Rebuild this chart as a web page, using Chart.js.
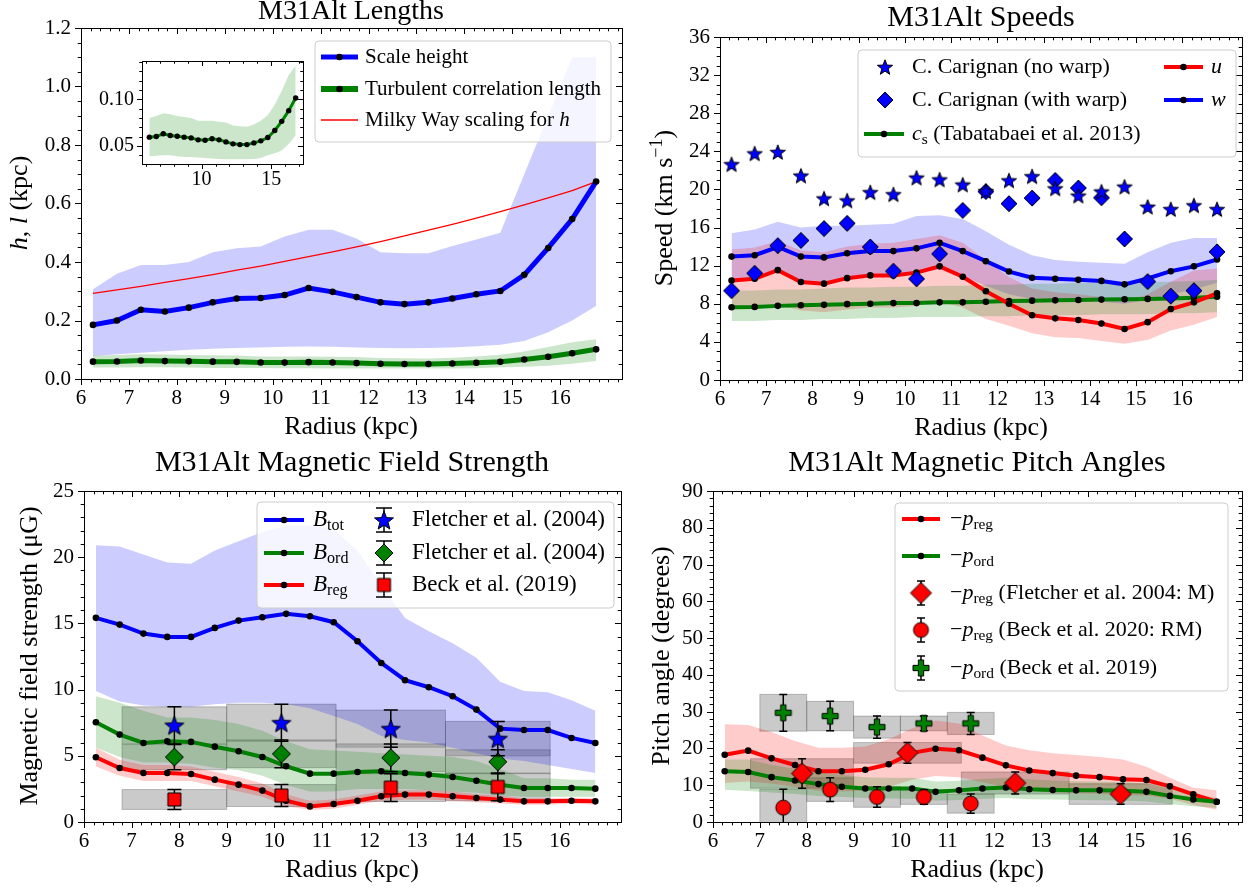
<!DOCTYPE html>
<html>
<head>
<meta charset="utf-8">
<script src="https://cdn.jsdelivr.net/npm/chart.js@4.4.1/dist/chart.umd.min.js"></script>
<style>
  html, body { margin: 0; padding: 0; background: #fff; }
  #wrap { position: relative; width: 1254px; height: 888px; overflow: hidden; }
  #wrap canvas { position: absolute; left: 0; top: 0; }
</style>
</head>
<body>
<div id="wrap">
  <canvas id="c1" width="1254" height="888"></canvas>
  <canvas id="c2" width="1254" height="888"></canvas>
  <canvas id="c3" width="1254" height="888"></canvas>
  <canvas id="c4" width="1254" height="888"></canvas>
  <canvas id="c1in" width="1254" height="888"></canvas>
</div>
<script>
/* ---- data: radii of the model rings (kpc) ---- */
const radius = [6.25, 6.75, 7.25, 7.75, 8.25, 8.75, 9.25, 9.75, 10.25, 10.75, 11.25,
  11.75, 12.25, 12.75, 13.25, 13.75, 14.25, 14.75, 15.25, 15.75, 16.25, 16.75];

/* lengths (kpc) */
const scaleHeight   = [0.185, 0.200, 0.237, 0.231, 0.244, 0.262, 0.275, 0.277, 0.287, 0.311, 0.298, 0.280, 0.262, 0.256, 0.262, 0.275, 0.290, 0.301, 0.356, 0.448, 0.547, 0.675];
const scaleHeightHi = [0.307, 0.360, 0.390, 0.390, 0.400, 0.433, 0.447, 0.453, 0.487, 0.510, 0.510, 0.480, 0.433, 0.430, 0.430, 0.455, 0.477, 0.500, 0.700, 0.900, 1.100, 1.100];
const scaleHeightLo = [0.079, 0.085, 0.090, 0.095, 0.100, 0.103, 0.106, 0.108, 0.110, 0.111, 0.110, 0.108, 0.106, 0.105, 0.106, 0.108, 0.112, 0.117, 0.130, 0.160, 0.200, 0.250];
const corrLength    = [0.0594, 0.0600, 0.0630, 0.0612, 0.0604, 0.0594, 0.0586, 0.0565, 0.0561, 0.0576, 0.0565, 0.0543, 0.0522, 0.0514, 0.0514, 0.0532, 0.0554, 0.0590, 0.0665, 0.0763, 0.0878, 0.1014];
const corrLengthHi  = [0.080, 0.082, 0.085, 0.084, 0.082, 0.081, 0.080, 0.077, 0.077, 0.077, 0.076, 0.075, 0.072, 0.071, 0.0705, 0.073, 0.077, 0.083, 0.094, 0.109, 0.126, 0.136];
const corrLengthLo  = [0.039, 0.0395, 0.040, 0.040, 0.039, 0.038, 0.038, 0.0375, 0.037, 0.0365, 0.036, 0.0356, 0.0356, 0.0356, 0.0356, 0.036, 0.037, 0.040, 0.042, 0.045, 0.052, 0.0615];
const mwScaling     = [0.293, 0.305, 0.317, 0.330, 0.343, 0.357, 0.372, 0.386, 0.402, 0.418, 0.435, 0.452, 0.470, 0.489, 0.509, 0.529, 0.550, 0.572, 0.595, 0.619, 0.644, 0.675];

/* speeds (km/s) */
const carignanNoWarp = [22.65, 23.78, 23.93, 21.45, 19.05, 18.84, 19.71, 19.49, 21.24, 21.05, 20.51, 19.82, 20.95, 21.38, 20.11, 19.35, 19.78, 20.29, 18.18, 17.93, 18.33, 17.93];
const carignanWarp   = [9.38, 11.2, 14.1, 14.65, 15.9, 16.44, 13.96, 11.42, 10.62, 13.24, 17.8, 19.78, 18.51, 19.09, 20.95, 20.15, 19.13, 14.8, 10.33, 8.8, 9.38, 13.45];
const speedU   = [10.44, 10.62, 11.53, 10.29, 10.11, 10.69, 10.98, 10.98, 11.27, 11.93, 10.84, 9.31, 8.0, 6.8, 6.47, 6.29, 5.93, 5.35, 6.07, 7.45, 8.15, 9.09];
const speedUHi = [13.7, 13.9, 14.6, 13.6, 13.4, 14.0, 14.3, 14.4, 14.8, 15.2, 14.4, 12.6, 10.8, 9.6, 9.2, 9.0, 8.7, 8.2, 9.0, 10.3, 11.5, 11.7];
const speedULo = [7.4, 7.5, 7.9, 7.3, 7.1, 7.4, 7.6, 7.6, 7.8, 8.2, 7.6, 6.4, 5.7, 4.9, 4.5, 4.4, 4.1, 3.8, 4.2, 5.2, 5.8, 6.6];
const speedW   = [12.95, 13.1, 13.96, 12.95, 12.87, 13.31, 13.53, 13.53, 13.82, 14.4, 13.53, 12.47, 11.38, 10.73, 10.62, 10.51, 10.4, 10.04, 10.65, 11.42, 11.93, 12.65];
const speedWHi = [15.4, 15.8, 16.6, 16.0, 16.2, 16.2, 16.3, 16.4, 17.2, 17.3, 16.9, 15.6, 14.2, 13.1, 12.6, 12.4, 12.3, 12.2, 13.4, 14.4, 14.9, 14.9];
const speedWLo = [10.5, 10.6, 11.3, 10.4, 10.3, 10.6, 10.9, 10.9, 11.2, 11.6, 10.9, 9.9, 9.0, 8.5, 8.4, 8.3, 8.2, 8.0, 8.4, 9.0, 9.5, 10.2];
const soundSpeed   = [7.64, 7.67, 7.78, 7.85, 7.89, 7.96, 8.0, 8.07, 8.07, 8.15, 8.15, 8.22, 8.29, 8.33, 8.36, 8.4, 8.44, 8.47, 8.51, 8.55, 8.62, 8.73];
const soundSpeedHi = [9.4, 9.4, 9.5, 9.5, 9.6, 9.7, 9.7, 9.8, 9.8, 9.9, 9.9, 10.0, 10.0, 10.1, 10.1, 10.2, 10.2, 10.2, 10.3, 10.3, 10.4, 10.5];
const soundSpeedLo = [6.2, 6.2, 6.3, 6.3, 6.4, 6.4, 6.5, 6.5, 6.6, 6.6, 6.6, 6.7, 6.7, 6.8, 6.8, 6.8, 6.9, 6.9, 6.9, 7.0, 7.0, 7.1];

/* field strengths (microgauss) */
const bTot   = [15.42, 14.91, 14.23, 13.98, 13.98, 14.66, 15.21, 15.47, 15.72, 15.54, 15.09, 13.65, 12.01, 10.71, 10.18, 9.50, 8.49, 7.05, 6.95, 6.95, 6.35, 5.97];
const bTotHi = [20.9, 20.8, 20.2, 19.6, 19.5, 20.5, 21.2, 21.9, 22.4, 22.4, 22.1, 20.5, 17.9, 15.4, 14.4, 13.5, 12.4, 10.6, 9.9, 9.8, 9.2, 8.4];
const bTotLo = [9.9, 9.1, 8.8, 8.7, 8.7, 8.9, 9.0, 9.0, 8.9, 8.6, 8.0, 7.4, 6.5, 6.2, 6.0, 5.6, 5.2, 4.8, 4.6, 4.3, 4.0, 3.7];
const bOrd   = [7.53, 6.60, 5.97, 6.10, 6.05, 5.69, 5.34, 4.91, 4.21, 3.65, 3.65, 3.78, 3.83, 3.70, 3.58, 3.40, 3.12, 2.82, 2.57, 2.57, 2.57, 2.52];
const bOrdHi = [9.5, 9.0, 8.4, 7.9, 7.9, 7.7, 7.4, 6.9, 6.1, 5.5, 5.4, 5.3, 5.2, 5.1, 5.0, 4.9, 4.6, 4.0, 3.3, 3.3, 3.2, 3.2];
const bOrdLo = [5.6, 4.9, 4.5, 4.5, 4.4, 4.1, 3.9, 3.5, 2.8, 2.3, 2.3, 2.5, 2.5, 2.5, 2.4, 2.3, 2.2, 2.0, 1.9, 1.9, 1.9, 1.9];
const bReg   = [4.89, 4.08, 3.70, 3.70, 3.63, 3.20, 2.82, 2.37, 1.61, 1.18, 1.36, 1.61, 1.94, 2.07, 2.07, 1.94, 1.81, 1.69, 1.56, 1.56, 1.61, 1.56];
const bRegHi = [5.6, 4.7, 4.3, 4.3, 4.2, 3.8, 3.4, 2.9, 2.1, 1.6, 1.7, 2.0, 2.3, 2.4, 2.4, 2.3, 2.1, 2.0, 1.8, 1.8, 1.8, 1.8];
const bRegLo = [4.2, 3.5, 3.1, 3.1, 3.1, 2.7, 2.3, 1.9, 1.2, 0.9, 1.0, 1.3, 1.6, 1.7, 1.7, 1.6, 1.5, 1.4, 1.3, 1.3, 1.4, 1.3];

/* observed rings (Fletcher 2004 / Beck 2019) */
const obsRadius = [7.9, 10.15, 12.45, 14.7];
const obsBinLo  = [6.8, 9.0, 11.3, 13.6];
const obsBinHi  = [9.0, 11.3, 13.6, 15.8];
const fletcherBtot    = [7.3, 7.5, 7.05, 6.3];
const fletcherBtotErr = [1.4, 1.4, 1.4, 1.3];
const fletcherBord    = [4.9, 5.15, 4.85, 4.55];
const fletcherBordErr = [0.95, 1.05, 1.05, 0.9];
const beckBreg        = [1.7, 2.0, 2.6, 2.65];
const beckBregErr     = [0.75, 0.83, 1.05, 1.05];

/* pitch angles (degrees) */
const pReg   = [18.3, 19.4, 17.3, 15.5, 13.8, 13.8, 14.2, 15.7, 18.8, 19.9, 19.5, 17.5, 15.4, 14.0, 13.3, 12.6, 12.2, 11.6, 11.4, 9.7, 7.5, 5.5];
const pRegHi = [26.6, 26.4, 24.5, 22.0, 20.2, 20.2, 20.5, 22.5, 25.5, 27.6, 26.8, 23.5, 20.8, 19.5, 18.7, 18.2, 17.7, 17.0, 15.0, 12.0, 9.3, 8.6];
const pRegLo = [10.6, 11.0, 10.5, 9.5, 8.5, 8.3, 8.5, 9.5, 11.5, 12.5, 12.2, 10.8, 9.4, 8.5, 8.0, 7.8, 7.6, 7.3, 7.2, 6.3, 4.6, 3.3];
const pOrd   = [13.8, 13.6, 12.2, 11.3, 10.3, 9.6, 9.1, 9.1, 9.1, 8.2, 8.6, 9.1, 9.4, 8.9, 8.7, 8.6, 8.6, 8.5, 8.2, 7.1, 6.1, 5.5];
const pOrdHi = [17.0, 17.0, 15.5, 14.5, 13.5, 12.8, 12.2, 12.0, 12.0, 11.0, 11.2, 11.7, 12.0, 11.6, 11.3, 11.1, 11.0, 10.9, 10.5, 9.0, 7.6, 6.5];
const pOrdLo = [8.8, 8.4, 8.0, 7.6, 7.1, 6.8, 6.5, 6.4, 6.3, 5.8, 6.0, 6.3, 6.5, 6.2, 6.1, 6.0, 5.9, 5.8, 5.6, 4.9, 4.3, 3.8];
const fletcherPitch    = [13.2, 18.8, 10.6, 7.6];
const fletcherPitchErr = [4.0, 2.8, 3.0, 2.8];
const beckRadius = [7.5, 8.5, 9.5, 10.5, 11.5];
const beckBinLo  = [7, 8, 9, 10, 11];
const beckBinHi  = [8, 9, 10, 11, 12];
const beckRMPitch     = [3.9, 8.8, 6.8, 6.8, 5.0];
const beckRMPitchErr  = [5.0, 3.2, 2.8, 2.0, 2.6];
const beckOrdPitch    = [29.7, 28.8, 25.8, 26.8, 26.8];
const beckOrdPitchErr = [5.0, 4.0, 3.0, 2.0, 3.0];

/* tick labels */
const radiusTicks = [6, 7, 8, 9, 10, 11, 12, 13, 14, 15, 16];
const lengthTicks = [0, 0.2, 0.4, 0.6, 0.8, 1.0, 1.2];
const speedTicks  = [0, 4, 8, 12, 16, 20, 24, 28, 32, 36];
const fieldTicks  = [0, 5, 10, 15, 20, 25];
const pitchTicks  = [0, 10, 20, 30, 40, 50, 60, 70, 80, 90];
const insetXTicks = [10, 15];
const insetYTicks = [0.05, 0.10];

/* ------------------------------------------------------------------ */
const W = 1254, H = 888;
const YW = 70, XH = 50;   // room kept for tick labels (labels are clipped to the scale box)
const FONT = '"Liberation Serif", "Times New Roman", serif';
Chart.defaults.color = '#000';
Chart.defaults.font.family = FONT;

const BLUE = '#0000ff', GREEN = '#008000', RED = '#ff0000';
const pts = (ys, xs = radius) => xs.map((x, i) => ({ x, y: ys[i] }));

function markerCanvas(shape, r, fill) {
  const s = Math.ceil(r * 2 + 4);
  const c = document.createElement('canvas'); c.width = s; c.height = s;
  const g = c.getContext('2d');
  g.translate(s / 2, s / 2);
  g.beginPath();
  if (shape === 'star') {
    for (let k = 0; k < 10; k++) {
      const rr = k % 2 ? r * 0.42 : r, a = -Math.PI / 2 + k * Math.PI / 5;
      g.lineTo(rr * Math.cos(a), rr * Math.sin(a) + r * 0.1);
    }
  } else if (shape === 'diamond') {
    g.moveTo(0, -r); g.lineTo(r, 0); g.lineTo(0, r); g.lineTo(-r, 0);
  } else if (shape === 'square') {
    g.rect(-r, -r, 2 * r, 2 * r);
  } else if (shape === 'circle') {
    g.arc(0, 0, r, 0, Math.PI * 2);
  } else if (shape === 'plus') {
    const w = r / 3;
    [[-w, -r], [w, -r], [w, -w], [r, -w], [r, w], [w, w], [w, r], [-w, r], [-w, w], [-r, w], [-r, -w], [-w, -w]]
      .forEach(([px, py]) => g.lineTo(px, py));
  }
  g.closePath();
  g.fillStyle = fill; g.fill();
  g.lineWidth = 1; g.strokeStyle = '#000'; g.stroke();
  return c;
}

const M = {
  star2: markerCanvas('star', 8, BLUE), diam2: markerCanvas('diamond', 8, BLUE),
  star3: markerCanvas('star', 10, BLUE), diam3: markerCanvas('diamond', 9, GREEN), sq3: markerCanvas('square', 6.5, RED),
  diam4: markerCanvas('diamond', 10.5, RED), circ4: markerCanvas('circle', 7.5, RED), plus4: markerCanvas('plus', 8, GREEN),
};

/* rich text: parts = [[text, style]] ; style 'i' italic, 'b' subscript, 'p' superscript */
function partFont(st, size) {
  const small = st.includes('b') || st.includes('p');
  return (st.includes('i') ? 'italic ' : '') + (small ? size * 0.7 : size) + 'px ' + FONT;
}
function drawRich(ctx, parts, x, y, size, align) {
  let w = 0;
  parts.forEach(([t, st]) => { ctx.font = partFont(st, size); w += ctx.measureText(t).width; });
  let cx = align === 'center' ? x - w / 2 : align === 'right' ? x - w : x;
  ctx.textAlign = 'left'; ctx.textBaseline = 'middle'; ctx.fillStyle = '#000';
  parts.forEach(([t, st]) => {
    ctx.font = partFont(st, size);
    const dy = st.includes('b') ? size * 0.25 : st.includes('p') ? -size * 0.3 : 0;
    ctx.fillText(t, cx, y + dy);
    cx += ctx.measureText(t).width;
  });
}

function drawLegend(ctx, L) {
  const [x0, y0, x1, y1] = L.box, r = 4;
  ctx.save();
  ctx.beginPath();
  ctx.moveTo(x0 + r, y0); ctx.arcTo(x1, y0, x1, y1, r); ctx.arcTo(x1, y1, x0, y1, r);
  ctx.arcTo(x0, y1, x0, y0, r); ctx.arcTo(x0, y0, x1, y0, r); ctx.closePath();
  ctx.fillStyle = 'rgba(255,255,255,0.8)'; ctx.fill();
  ctx.strokeStyle = '#cccccc'; ctx.lineWidth = 1; ctx.stroke();
  L.items.forEach(it => {
    if (it.line) {
      const l = it.line;
      ctx.strokeStyle = l.color; ctx.lineWidth = l.lw; ctx.lineCap = 'butt';
      ctx.beginPath(); ctx.moveTo(l.x0, it.y); ctx.lineTo(l.x1, it.y); ctx.stroke();
      if (l.dot) { ctx.fillStyle = '#000'; ctx.beginPath(); ctx.arc((l.x0 + l.x1) / 2, it.y, 3.3, 0, Math.PI * 2); ctx.fill(); }
    }
    if (it.mark) {
      const m = it.mark;
      if (m.err) {
        ctx.strokeStyle = '#000'; ctx.lineWidth = 1.5; ctx.beginPath();
        ctx.moveTo(m.x, it.y - m.err); ctx.lineTo(m.x, it.y + m.err);
        ctx.moveTo(m.x - m.cap, it.y - m.err); ctx.lineTo(m.x + m.cap, it.y - m.err);
        ctx.moveTo(m.x - m.cap, it.y + m.err); ctx.lineTo(m.x + m.cap, it.y + m.err);
        ctx.stroke();
      }
      ctx.drawImage(m.img, m.x - m.img.width / 2, it.y - m.img.height / 2);
    }
    drawRich(ctx, it.text, it.tx, it.y, L.size || 21, 'left');
  });
  ctx.restore();
}

function eachTick(min, max, minor, major, majorMax, cb) {
  const k0 = Math.ceil(min / minor - 1e-6), k1 = Math.floor(max / minor + 1e-6);
  for (let k = k0; k <= k1; k++) {
    const v = k * minor;
    cb(v, Math.abs(v / major - Math.round(v / major)) < 1e-6 && v <= majorMax + 1e-9);
  }
}

const FRAMES = {};

/* spines, in/out ticks, titles, axis labels and legends */
const framePlugin = {
  id: 'frame',
  beforeDraw(chart) {
    const f = FRAMES[chart.canvas.id]; if (!f || !f.bg) return;
    const { ctx, chartArea: a } = chart;
    ctx.save(); ctx.fillStyle = '#fff'; ctx.fillRect(a.left, a.top, a.right - a.left, a.bottom - a.top); ctx.restore();
  },
  afterDraw(chart) {
    const f = FRAMES[chart.canvas.id]; if (!f) return;
    const { ctx, chartArea: a, scales: { x, y } } = chart;
    ctx.save();
    ctx.strokeStyle = '#000'; ctx.lineWidth = 1;
    ctx.beginPath();
    eachTick(x.min, x.max, f.xMinor, f.xMajor, f.xMajorMax ?? 1e9, (v, major) => {
      const px = Math.round(x.getPixelForValue(v)) + 0.5, len = major ? f.tl : f.tl * 0.55;
      ctx.moveTo(px, a.bottom); ctx.lineTo(px, a.bottom + len);
      ctx.moveTo(px, a.top); ctx.lineTo(px, a.top + len);
    });
    eachTick(y.min, y.max, f.yMinor, f.yMajor, 1e9, (v, major) => {
      const py = Math.round(y.getPixelForValue(v)) + 0.5, len = major ? f.tl : f.tl * 0.55;
      ctx.moveTo(a.left - len, py); ctx.lineTo(a.left, py);
      ctx.moveTo(a.right - len, py); ctx.lineTo(a.right, py);
    });
    ctx.stroke();
    ctx.strokeRect(Math.round(a.left) + 0.5, Math.round(a.top) + 0.5, Math.round(a.right - a.left), Math.round(a.bottom - a.top));
    if (f.title) drawRich(ctx, f.title, f.title.x, f.title.y, f.titleSize || 29, 'center');
    if (f.xlabel) drawRich(ctx, f.xlabel, f.xlabel.x, f.xlabel.y, 26, 'center');
    if (f.ylabel) {
      ctx.save(); ctx.translate(f.ylabel.x, f.ylabel.y); ctx.rotate(-Math.PI / 2);
      drawRich(ctx, f.ylabel, 0, 0, 26, 'center'); ctx.restore();
    }
    if (f.legend) drawLegend(ctx, f.legend);
    ctx.restore();
  },
};

/* grey bin boxes and error bars of the observed points */
const obsPlugin = {
  id: 'obs',
  beforeDatasetsDraw(chart) {
    const { ctx, chartArea: a, scales: { x, y } } = chart;
    ctx.save();
    ctx.beginPath(); ctx.rect(a.left, a.top, a.right - a.left, a.bottom - a.top); ctx.clip();
    chart.data.datasets.forEach(ds => {
      if (!ds.boxes) return;
      ds.data.forEach((p, i) => {
        const x0 = x.getPixelForValue(ds.boxes.lo[i]), x1 = x.getPixelForValue(ds.boxes.hi[i]);
        const y0 = y.getPixelForValue(p.y + ds.errorBars[i]), y1 = y.getPixelForValue(p.y - ds.errorBars[i]);
        ctx.fillStyle = 'rgba(128,128,128,0.42)'; ctx.fillRect(x0, y0, x1 - x0, y1 - y0);
        ctx.strokeStyle = 'rgba(60,60,60,0.3)'; ctx.lineWidth = 1; ctx.strokeRect(x0, y0, x1 - x0, y1 - y0);
      });
    });
    ctx.restore();
  },
  beforeDatasetDraw(chart, args) {
    const ds = chart.data.datasets[args.index];
    if (!ds.errorBars) return;
    const { ctx, chartArea: a, scales: { x, y } } = chart;
    ctx.save();
    ctx.beginPath(); ctx.rect(a.left, a.top, a.right - a.left, a.bottom - a.top); ctx.clip();
    ctx.strokeStyle = '#000'; ctx.lineWidth = 1.5;
    ctx.beginPath();
    ds.data.forEach((p, i) => {
      const px = x.getPixelForValue(p.x), t = y.getPixelForValue(p.y + ds.errorBars[i]), b = y.getPixelForValue(p.y - ds.errorBars[i]);
      const c = ds.errCap || 5;
      ctx.moveTo(px, t); ctx.lineTo(px, b);
      ctx.moveTo(px - c, t); ctx.lineTo(px + c, t);
      ctx.moveTo(px - c, b); ctx.lineTo(px + c, b);
    });
    ctx.stroke();
    ctx.restore();
  },
};

function lineSet(ys, color, lw, order, dot = 3.3) {
  return { data: pts(ys), borderColor: color, borderWidth: lw, pointRadius: dot, pointHoverRadius: dot,
    pointBackgroundColor: '#000', pointBorderWidth: 0, fill: false, tension: 0, order };
}
function bandSets(lo, hi, color, order) {
  return [
    { data: pts(hi), fill: '+1', backgroundColor: color, borderColor: 'transparent', borderWidth: 0, pointRadius: 0, order },
    { data: pts(lo), fill: false, borderColor: 'transparent', borderWidth: 0, pointRadius: 0, order },
  ];
}
function markerSet(xs, ys, img, err, cap, bins, order) {
  return { data: pts(ys, xs), showLine: false, pointStyle: img, pointRadius: 6, pointHoverRadius: 6,
    errorBars: err, errCap: cap, boxes: bins, order };
}

function axis(min, max, ticks, fmt, isX, pad, size) {
  return {
    type: 'linear', min, max,
    grid: { display: false, drawTicks: false }, border: { display: false },
    ticks: { autoSkip: false, maxRotation: 0, padding: pad, font: { family: FONT, size }, callback: fmt },
    afterBuildTicks: s => { s.ticks = ticks.map(v => ({ value: v })); },
    afterFit: s => {
      if (isX) s.height = XH; else s.width = YW;
      s.paddingLeft = s.paddingRight = s.paddingTop = s.paddingBottom = 0;
    },
  };
}

function panel(id, area, xr, yr, datasets) {
  return new Chart(document.getElementById(id), {
    type: 'line',
    data: { datasets },
    options: {
      responsive: false, animation: false, devicePixelRatio: 1, events: [],
      layout: { padding: { left: area[0] - YW, top: area[1], right: W - area[2], bottom: H - area[3] - XH } },
      scales: { x: xr, y: yr },
      plugins: { legend: { display: false }, tooltip: { enabled: false } },
    },
    plugins: [obsPlugin, framePlugin],
  });
}

const fmtInt = v => String(v);
const fmt1 = v => v.toFixed(1);
const fmt2 = v => v.toFixed(2);
const XMAX = 17.29;
const withPos = (parts, x, y) => Object.assign(parts, { x, y });
const radiusLabel = [['Radius (kpc)', '']];

/* ---- panel 1: lengths ---- */
FRAMES.c1 = {
  xMinor: 0.2, xMajor: 1, xMajorMax: 16, yMinor: 0.05, yMajor: 0.2, tl: 6, titleSize: 28,
  title: withPos([['M31Alt Lengths', '']], 351, 12),
  xlabel: withPos(radiusLabel.slice(), 351, 427),
  ylabel: withPos([['h', 'i'], [', ', ''], ['l', 'i'], [' (kpc)', '']], 20, 203),
  legend: { box: [315, 41, 611, 142], size: 21, items: [
    { y: 57, line: { x0: 321, x1: 358, color: BLUE, lw: 5, dot: true }, tx: 365, text: [['Scale height', '']] },
    { y: 89, line: { x0: 321, x1: 358, color: GREEN, lw: 6, dot: true }, tx: 365, text: [['Turbulent correlation length', '']] },
    { y: 120, line: { x0: 321, x1: 358, color: RED, lw: 1.3 }, tx: 365, text: [['Milky Way scaling for ', ''], ['h', 'i']] },
  ] },
};
panel('c1', [81, 28, 622, 379],
  axis(6, XMAX, radiusTicks, fmtInt, true, 7, 21),
  axis(0, 1.2, lengthTicks, fmt1, false, 10, 21), [
    lineSet(scaleHeight, BLUE, 5, 1),
    lineSet(corrLength, GREEN, 5, 2),
    { data: pts(mwScaling), borderColor: RED, borderWidth: 1.3, pointRadius: 0, fill: false, tension: 0, order: 3 },
    ...bandSets(scaleHeightLo, scaleHeightHi, 'rgba(0,0,255,0.2)', 5),
    ...bandSets(corrLengthLo, corrLengthHi, 'rgba(0,128,0,0.2)', 4),
  ]);

/* inset: turbulent correlation length */
FRAMES.c1in = { xMinor: 1, xMajor: 5, yMinor: 0.01, yMajor: 0.05, tl: 5, bg: true };
panel('c1in', [142, 61, 303, 164],
  axis(5.725, 17.275, insetXTicks, fmtInt, true, 4, 20),
  axis(0.0306, 0.141, insetYTicks, fmt2, false, 8, 20), [
    lineSet(corrLength, GREEN, 3, 1, 2.7),
    ...bandSets(corrLengthLo, corrLengthHi, 'rgba(0,128,0,0.2)', 4),
  ]);

/* ---- panel 2: speeds ---- */
FRAMES.c2 = {
  xMinor: 0.2, xMajor: 1, xMajorMax: 16, yMinor: 1, yMajor: 4, tl: 6, titleSize: 30,
  title: withPos([['M31Alt Speeds', '']], 981, 18),
  xlabel: withPos(radiusLabel.slice(), 981, 428),
  ylabel: withPos([['Speed (km s', ''], ['−1', 'p'], [')', '']], 665, 208),
  legend: { box: [858, 50, 1236, 157], size: 22, items: [
    { y: 67, mark: { x: 885, img: M.star2 }, tx: 912, text: [['C. Carignan (no warp)', '']] },
    { y: 100, mark: { x: 885, img: M.diam2 }, tx: 912, text: [['C. Carignan (with warp)', '']] },
    { y: 134, line: { x0: 864, x1: 904, color: GREEN, lw: 4, dot: true }, tx: 912, text: [['c', 'i'], ['s', 'b'], [' (Tabatabaei et al. 2013)', '']] },
    { y: 67, line: { x0: 1164, x1: 1203, color: RED, lw: 4, dot: true }, tx: 1211, text: [['u', 'i']] },
    { y: 100, line: { x0: 1164, x1: 1203, color: BLUE, lw: 4, dot: true }, tx: 1211, text: [['w', 'i']] },
  ] },
};
panel('c2', [720, 37, 1242, 380],
  axis(6, XMAX, radiusTicks, fmtInt, true, 7, 21),
  axis(0, 36, speedTicks, fmtInt, false, 10, 21), [
    markerSet(radius, carignanNoWarp, M.star2, null, 0, null, 0),
    markerSet(radius, carignanWarp, M.diam2, null, 0, null, 0),
    lineSet(speedW, BLUE, 4, 1),
    lineSet(speedU, RED, 4, 2),
    lineSet(soundSpeed, GREEN, 4, 3),
    ...bandSets(speedWLo, speedWHi, 'rgba(0,0,255,0.2)', 6),
    ...bandSets(speedULo, speedUHi, 'rgba(255,0,0,0.2)', 5),
    ...bandSets(soundSpeedLo, soundSpeedHi, 'rgba(0,128,0,0.2)', 4),
  ]);

/* ---- panel 3: field strength ---- */
const errLeg3 = { err: 12, cap: 8 };
FRAMES.c3 = {
  xMinor: 0.2, xMajor: 1, xMajorMax: 16, yMinor: 1, yMajor: 5, tl: 6, titleSize: 30,
  title: withPos([['M31Alt Magnetic Field Strength', '']], 352, 463),
  xlabel: withPos(radiusLabel.slice(), 352, 870),
  ylabel: withPos([['Magnetic field strength (μG)', '']], 30, 656),
  legend: { box: [257, 502, 614, 608], size: 23, items: [
    { y: 520, line: { x0: 264, x1: 304, color: BLUE, lw: 4, dot: true }, tx: 313, text: [['B', 'i'], ['tot', 'b']] },
    { y: 553, line: { x0: 264, x1: 304, color: GREEN, lw: 4, dot: true }, tx: 313, text: [['B', 'i'], ['ord', 'b']] },
    { y: 585, line: { x0: 264, x1: 304, color: RED, lw: 4, dot: true }, tx: 313, text: [['B', 'i'], ['reg', 'b']] },
    { y: 520, mark: { x: 384, img: M.star3, ...errLeg3 }, tx: 412, text: [['Fletcher et al. (2004)', '']] },
    { y: 553, mark: { x: 384, img: M.diam3, ...errLeg3 }, tx: 412, text: [['Fletcher et al. (2004)', '']] },
    { y: 585, mark: { x: 384, img: M.sq3, ...errLeg3 }, tx: 412, text: [['Beck et al. (2019)', '']] },
  ] },
};
const bins3 = { lo: obsBinLo, hi: obsBinHi };
panel('c3', [84, 491, 621, 822],
  axis(6, XMAX, radiusTicks, fmtInt, true, 7, 21),
  axis(0, 25, fieldTicks, fmtInt, false, 10, 21), [
    markerSet(obsRadius, fletcherBtot, M.star3, fletcherBtotErr, 7, bins3, 0),
    markerSet(obsRadius, fletcherBord, M.diam3, fletcherBordErr, 7, bins3, 0),
    markerSet(obsRadius, beckBreg, M.sq3, beckBregErr, 7, bins3, 0),
    lineSet(bTot, BLUE, 4, 1),
    lineSet(bOrd, GREEN, 4, 2),
    lineSet(bReg, RED, 4, 3),
    ...bandSets(bTotLo, bTotHi, 'rgba(0,0,255,0.2)', 6),
    ...bandSets(bOrdLo, bOrdHi, 'rgba(0,128,0,0.2)', 5),
    ...bandSets(bRegLo, bRegHi, 'rgba(255,0,0,0.2)', 4),
  ]);

/* ---- panel 4: pitch angles ---- */
const errLeg4 = { err: 12, cap: 4 };
const mp = (sub, rest) => [['−', ''], ['p', 'i'], [sub, 'b']].concat(rest ? [[rest, '']] : []);
FRAMES.c4 = {
  xMinor: 0.2, xMajor: 1, xMajorMax: 16, yMinor: 2, yMajor: 10, tl: 6, titleSize: 30,
  title: withPos([['M31Alt Magnetic Pitch Angles', '']], 977, 463),
  xlabel: withPos(radiusLabel.slice(), 977, 870),
  ylabel: withPos([['Pitch angle (degrees)', '']], 662, 656),
  legend: { box: [895, 503, 1228, 691], size: 22, items: [
    { y: 519, line: { x0: 902, x1: 940, color: RED, lw: 4, dot: true }, tx: 950, text: mp('reg') },
    { y: 556, line: { x0: 902, x1: 940, color: GREEN, lw: 4, dot: true }, tx: 950, text: mp('ord') },
    { y: 593, mark: { x: 921, img: M.diam4, ...errLeg4 }, tx: 950, text: mp('reg', ' (Fletcher et al. 2004: M)') },
    { y: 630, mark: { x: 921, img: M.circ4, ...errLeg4 }, tx: 950, text: mp('reg', ' (Beck et al. 2020: RM)') },
    { y: 668, mark: { x: 921, img: M.plus4, ...errLeg4 }, tx: 950, text: mp('ord', ' (Beck et al. 2019)') },
  ] },
};
const bins4 = { lo: beckBinLo, hi: beckBinHi };
panel('c4', [713, 491, 1242, 822],
  axis(6, XMAX, radiusTicks, fmtInt, true, 7, 21),
  axis(0, 90, pitchTicks, fmtInt, false, 10, 21), [
    markerSet(obsRadius, fletcherPitch, M.diam4, fletcherPitchErr, 4, bins3, 0),
    markerSet(beckRadius, beckRMPitch, M.circ4, beckRMPitchErr, 4, bins4, 0),
    markerSet(beckRadius, beckOrdPitch, M.plus4, beckOrdPitchErr, 4, bins4, 0),
    lineSet(pOrd, GREEN, 4, 1),
    lineSet(pReg, RED, 4, 2),
    ...bandSets(pRegLo, pRegHi, 'rgba(255,0,0,0.2)', 5),
    ...bandSets(pOrdLo, pOrdHi, 'rgba(0,128,0,0.2)', 4),
  ]);
</script>
</body>
</html>
